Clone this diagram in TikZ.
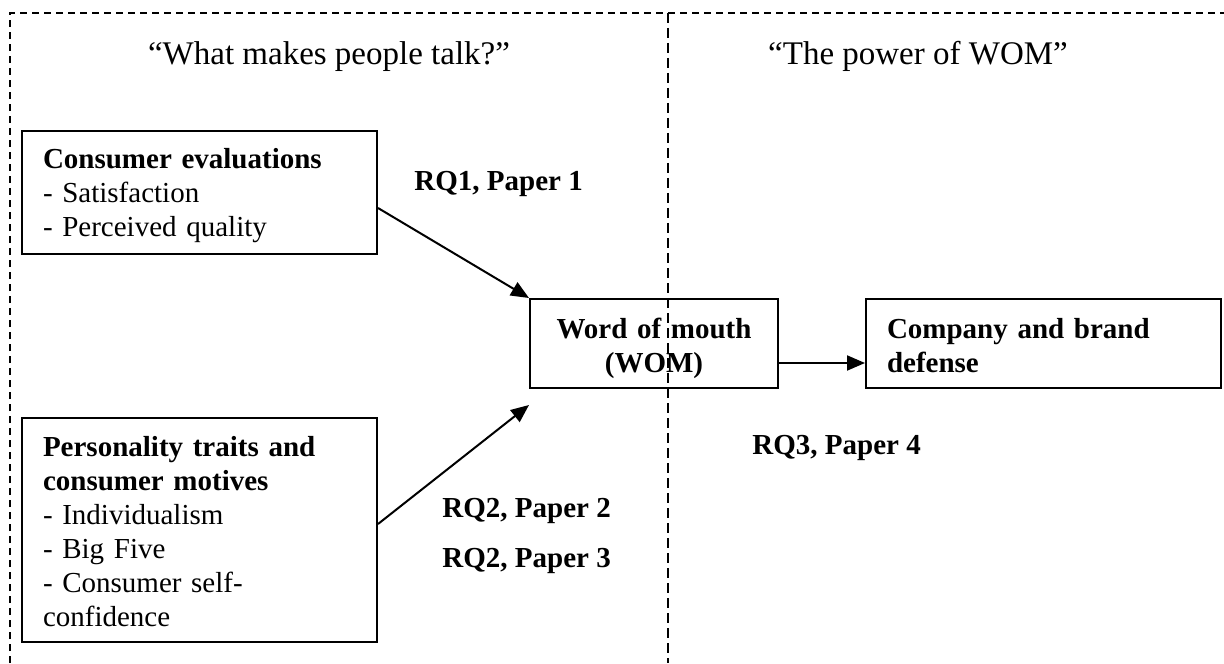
\documentclass[tikz,border=0pt]{standalone}
\usepackage{fontspec}
\setmainfont{Liberation Serif}
\usetikzlibrary{arrows.meta, positioning}

\tikzset{
    box/.style = {draw, line width=1pt, anchor=north west, inner xsep=10.5pt, inner ysep=0pt,
        text width=156.5pt, align=left, text height=10pt, font=\fontsize{14.5}{17}\selectfont},
    link/.style = {-{Triangle[length=9pt, width=7.5pt]}, line width=1pt},
    rq/.style = {anchor=base west, inner sep=0pt, font=\fontsize{14.5}{17}\selectfont\bfseries},
    heading/.style = {anchor=base, inner sep=0pt, font=\fontsize{16.5}{19}\selectfont},
    frame/.style = {line width=0.75pt, dash pattern=on 3.5pt off 2.5pt},
    divider/.style = {line width=0.9pt, dash pattern=on 5pt off 2.5pt}
}

\begin{document}
\begin{tikzpicture} [x=0.5pt, y=-0.5pt]
    \useasboundingbox (0,0) rectangle (1224,663);

    \draw [frame] (10,663) |- (1224,13);
    \draw [divider] (668,13) -- (668,663);

    \node (talk) [heading] at (329,65) {“What makes people talk?”};
    \node (power) [heading] at (918,65) {“The power of WOM”};

    \node (ce) [box, minimum height=61.5pt, text depth=33.5pt] at (21,130)
        {\textbf{Consumer evaluations}\\- Satisfaction\\- Perceived quality};
    \node (pt) [box, minimum height=112pt, text depth=84pt] at (21,417)
        {\textbf{Personality traits and}\\\textbf{consumer motives}\\- Individualism\\- Big Five\\- Consumer self-\\confidence};
    \node (wom) [box, minimum height=44.5pt, text depth=15.5pt, text width=103pt, align=center] at (529,298)
        {\textbf{Word of mouth}\\\textbf{(WOM)}};
    \node (company) [box, minimum height=44.5pt, text depth=15.5pt, right = 43pt of wom]
        {\textbf{Company and brand}\\\textbf{defense}};

    \node (rq1) [rq] at (414,191) {RQ1, Paper 1};
    \node (rq2a) [rq] at (442,517) {RQ2, Paper 2};
    \node (rq2b) [rq] at (442,567) {RQ2, Paper 3};
    \node (rq3) [rq] at (752,454) {RQ3, Paper 4};

    \draw [link] ([yshift=-7.75pt]ce.east) -- (wom.north west);
    \draw [link] ([yshift=3pt]pt.east) -- ([yshift=-8pt]wom.south west);
    \draw [link] ([yshift=-9.75pt]wom.east) -- ([yshift=-9.75pt]company.west);
\end{tikzpicture}
\end{document}
